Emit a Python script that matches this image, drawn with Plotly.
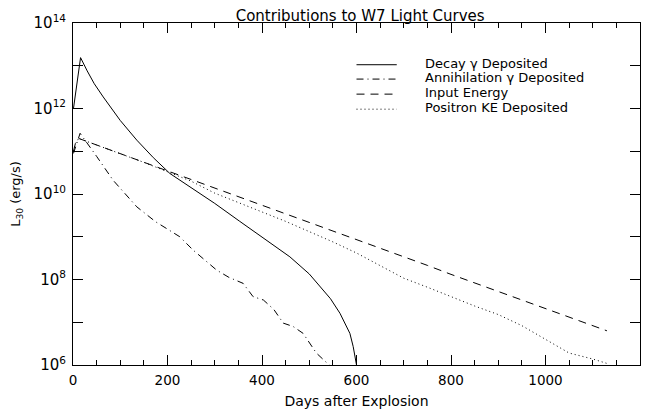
import plotly.graph_objects as go

# ---- data ----
decay_days = [1, 16, 30, 45, 64, 100, 135, 170, 205, 240, 269, 300, 353, 400, 459, 500, 523, 545, 565, 586, 593, 600]
decay_log = [12.0, 13.19, 12.88, 12.58, 12.27, 11.72, 11.26, 10.85, 10.48, 10.22, 10.01, 9.78, 9.36, 9.0, 8.53, 8.13, 7.83, 7.55, 7.21, 6.74, 6.43, 6.0]

annih_days = [1, 15, 50, 85, 135, 175, 226, 240, 254, 304, 330, 360, 381, 403, 425, 445, 466, 487, 515, 544, 555]
annih_log = [10.95, 11.42, 10.88, 10.32, 9.70, 9.35, 9.0, 8.85, 8.69, 8.22, 8.05, 7.91, 7.60, 7.52, 7.30, 6.98, 6.90, 6.74, 6.28, 5.98, 5.85]

input_days = [1, 5, 12, 50, 100, 150, 200, 250, 300, 350, 400, 450, 500, 550, 600, 650, 700, 750, 800, 850, 900, 950, 1000, 1050, 1100, 1130]
input_log = [11.0, 11.18, 11.30, 11.15, 10.95, 10.74, 10.54, 10.34, 10.14, 9.94, 9.74, 9.54, 9.33, 9.13, 8.93, 8.73, 8.53, 8.33, 8.12, 7.92, 7.72, 7.52, 7.32, 7.12, 6.92, 6.80]

positron_days = [1, 5, 12, 50, 100, 150, 200, 250, 300, 350, 400, 450, 500, 550, 600, 650, 700, 750, 800, 850, 900, 950, 1000, 1050, 1100, 1135]
positron_log = [11.0, 11.18, 11.30, 11.15, 10.94, 10.74, 10.52, 10.30, 10.02, 9.80, 9.58, 9.36, 9.12, 8.88, 8.62, 8.32, 8.03, 7.82, 7.60, 7.38, 7.18, 6.92, 6.60, 6.28, 6.14, 6.02]

series_names = ["Decay \u03b3 Deposited", "Annihilation \u03b3 Deposited", "Input Energy", "Positron KE Deposited"]
x_ticks = [0, 200, 400, 600, 800, 1000, 1200]
y_exps = [6, 8, 10, 12, 14]
y_minor_exps = [7, 9, 11, 13]

dashes = ["solid", "7px,4px,1px,4px", "8px,6px", "1px,3px"]

FONT = "DejaVu Sans"

fig = go.Figure()
all_series = [(decay_days, decay_log), (annih_days, annih_log), (input_days, input_log), (positron_days, positron_log)]
for (d, lg), name, dash in zip(all_series, series_names, dashes):
    fig.add_trace(go.Scatter(
        x=d, y=[10 ** v for v in lg], mode="lines", name=name,
        line=dict(color="black", width=1, dash=dash), showlegend=False,
    ))

# manual legend (styled like the IDL legend)
row_y = [0.882, 0.840, 0.796, 0.752]
for yy, name, dash in zip(row_y, series_names, dashes):
    fig.add_shape(type="line", xref="paper", yref="paper", x0=0.500, x1=0.571, y0=yy - 0.004, y1=yy - 0.004,
                  line=dict(color="black", width=1, dash=dash))
    fig.add_annotation(xref="paper", yref="paper", x=0.618, y=yy, text=name, showarrow=False,
                       xanchor="left", yanchor="middle", font=dict(family=FONT, size=13, color="black"))

fig.update_layout(
    width=648, height=402,
    margin=dict(l=65, r=16, t=15, b=45),
    paper_bgcolor="white", plot_bgcolor="white",
    title=dict(text="Contributions to W7 Light Curves", x=0.5435, xanchor="center", y=0.980, yanchor="middle",
               font=dict(family=FONT, size=15, color="black"), automargin=False),
    font=dict(family=FONT, color="black"),
)

fig.update_xaxes(
    range=[0, 1200], tickvals=x_ticks, ticktext=[str(t) for t in x_ticks],
    ticks="inside", ticklen=10, tickwidth=1, tickcolor="black",
    showline=True, linecolor="black", linewidth=1, mirror="ticks",
    showgrid=False, zeroline=False, automargin=False, ticklabelstandoff=3,
    minor=dict(dtick=50, ticks="inside", ticklen=5, tickcolor="black", showgrid=False),
    tickfont=dict(family=FONT, size=13.5, color="black"),
    title=dict(text="Days after Explosion", font=dict(family=FONT, size=14, color="black"), standoff=8),
)

fig.update_yaxes(
    type="log", range=[6, 14],
    tickvals=[10 ** e for e in y_exps], ticktext=["10<sup>%d</sup>" % e for e in y_exps],
    ticks="inside", ticklen=10, tickwidth=1, tickcolor="black",
    showline=True, linecolor="black", linewidth=1, mirror="ticks",
    showgrid=False, zeroline=False, automargin=False, ticklabelstandoff=3,
    minor=dict(tickvals=[10 ** e for e in y_minor_exps], ticks="inside", ticklen=10, tickcolor="black", showgrid=False),
    tickfont=dict(family=FONT, size=15, color="black"),
    title=dict(text="L<sub>30</sub> (erg/s)", font=dict(family=FONT, size=13, color="black"), standoff=14),
)

fig.write_html("out.html")
